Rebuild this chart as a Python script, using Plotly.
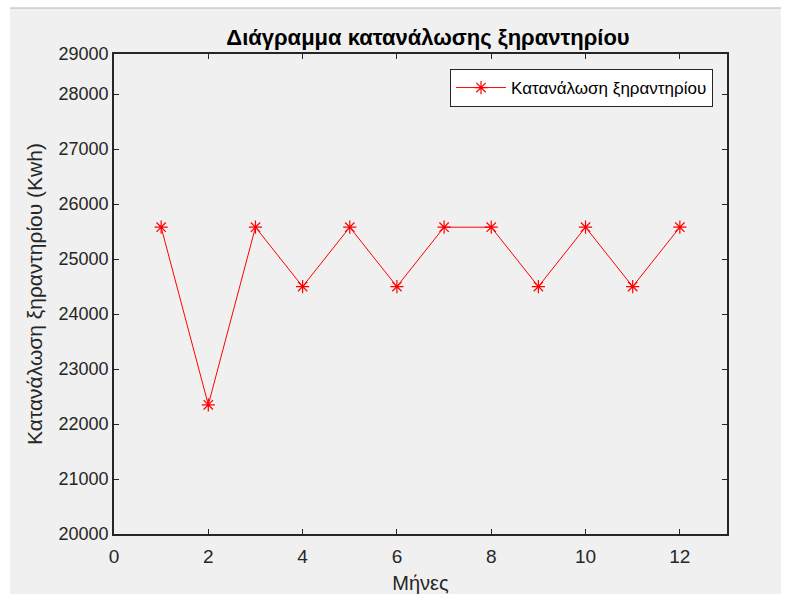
import plotly.graph_objects as go

months = [1, 2, 3, 4, 5, 6, 7, 8, 9, 10, 11, 12]
consumption = [25580, 22350, 25580, 24500, 25580, 24500, 25580, 25580, 24500, 25580, 24500, 25580]

x_ticks = [0, 2, 4, 6, 8, 10, 12]
y_range = [20000, 28730]
y_tickvals = [20000, 21000, 22000, 23000, 24000, 25000, 26000, 27000, 28000, 28730]
y_ticktext = ["20000", "21000", "22000", "23000", "24000", "25000", "26000", "27000", "28000", "29000"]

title_text = "Διάγραμμα κατανάλωσης ξηραντηρίου"
series_name = "Κατανάλωση ξηραντηρίου"
x_title = "Μήνες"
y_title = "Κατανάλωση ξηραντηρίου (Kwh)"

FONT = "Liberation Sans, Arial, sans-serif"
AX = "#262626"

fig = go.Figure()
fig.add_trace(go.Scatter(
    x=months, y=consumption, mode="lines+markers", name=series_name,
    line=dict(color="#ff0000", width=1),
    marker=dict(symbol="asterisk-open", size=11, color="#ff0000",
                line=dict(color="#ff0000", width=1.2)),
))

L, R, T, B = 114, 63, 54, 60
W, H = 790, 594
pw, ph = W - L - R, H - T - B

def px_to_paper_x(px):
    return (px - L) / pw

def px_to_paper_y(py):
    return (H - B - py) / ph

fig.add_shape(type="rect", xref="paper", yref="paper",
              x0=px_to_paper_x(10), x1=px_to_paper_x(781),
              y0=px_to_paper_y(600), y1=px_to_paper_y(8),
              fillcolor="#f0f0f0", line=dict(width=0), layer="below")
fig.add_shape(type="line", xref="paper", yref="paper",
              x0=px_to_paper_x(10), x1=px_to_paper_x(781),
              y0=px_to_paper_y(8), y1=px_to_paper_y(8),
              line=dict(color="#b4b4b4", width=1), layer="below")

fig.update_layout(
    width=W, height=H,
    margin=dict(l=L, r=R, t=T, b=B, autoexpand=False),
    paper_bgcolor="white", plot_bgcolor="white",
    font=dict(family=FONT, color=AX),
    title=dict(text="<b>" + title_text + "</b>", x=px_to_paper_x(428), xref="paper",
               xanchor="center", y=1 - 37 / H, yanchor="middle",
               font=dict(size=22, color="#000000", family=FONT)),
    showlegend=True,
    legend=dict(x=px_to_paper_x(713), y=px_to_paper_y(69), xanchor="right", yanchor="top",
                bgcolor="white", bordercolor=AX, borderwidth=1,
                font=dict(size=17, color="#000000", family=FONT),
                itemwidth=50, tracegroupgap=0),
    xaxis=dict(range=[0, 13], tickvals=x_ticks, ticks="inside", ticklen=5,
               tickcolor=AX, showline=True, linecolor=AX, linewidth=1.5,
               mirror="ticks", showgrid=False, zeroline=False, automargin=False,
               ticklabelstandoff=4,
               tickfont=dict(size=19, color=AX),
               title=dict(text=x_title, font=dict(size=20, color=AX), standoff=12)),
    yaxis=dict(range=y_range, tickvals=y_tickvals, ticktext=y_ticktext,
               ticks="inside", ticklen=5, tickcolor=AX, showline=True,
               linecolor=AX, linewidth=1.5, mirror="ticks", showgrid=False,
               zeroline=False, automargin=False, tickfont=dict(size=18, color=AX),
               title=dict(text=y_title, font=dict(size=21, color=AX), standoff=10)),
)

fig.write_html("out.html")
